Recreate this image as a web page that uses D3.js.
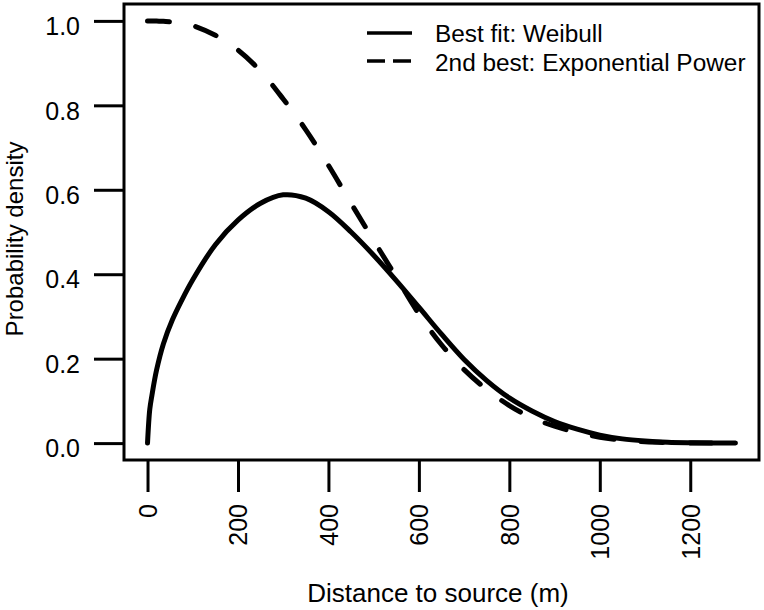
<!DOCTYPE html>
<html>
<head>
<meta charset="utf-8">
<script src="https://cdn.jsdelivr.net/npm/d3@7"></script>
<style>
  body { margin: 0; background: #fff; }
  text { font-family: "Liberation Sans", Arial, Helvetica, sans-serif; fill: #000; }
</style>
</head>
<body>
<div id="chart"></div>
<script>
// values
var distances = [0, 5, 10, 20, 35, 55, 75, 100, 150, 200, 250, 300, 350, 400, 450, 500,
                 550, 600, 650, 700, 750, 800, 850, 900, 950, 1000, 1050, 1100, 1150, 1200, 1250, 1300];
var weibull = [0, 0.08, 0.115, 0.173, 0.235, 0.292, 0.337, 0.387, 0.47, 0.528, 0.568, 0.588,
               0.58, 0.548, 0.5, 0.445, 0.385, 0.322, 0.258, 0.198, 0.148, 0.107, 0.076,
               0.051, 0.033, 0.019, 0.01, 0.005, 0.002, 0.0008, 0.0003, 0];
var expPower = [1.0, 1.0, 1.0, 0.9995, 0.999, 0.997, 0.995, 0.989, 0.966, 0.931, 0.881, 0.815,
                0.742, 0.658, 0.568, 0.48, 0.393, 0.306, 0.233, 0.174, 0.127, 0.089, 0.06,
                0.04, 0.025, 0.014, 0.007, 0.003, 0.0012, 0.0005, 0.0002, 0];
var xTicks = [0, 200, 400, 600, 800, 1000, 1200];
var yTicks = [0, 0.2, 0.4, 0.6, 0.8, 1.0];
var legendLabels = ["Best fit: Weibull", "2nd best: Exponential Power"];

DensityChart = function(_parentElement) {
    this.parentElement = _parentElement;
    this.initVis();
}

DensityChart.prototype.initVis = function() {
    var vis = this;

    vis.width = 764;
    vis.height = 610;
    vis.box = { left: 124, right: 759, top: 4, bottom: 460 };

    vis.svg = d3.select('#' + vis.parentElement)
      .append("svg")
      .attr("width", vis.width)
      .attr("height", vis.height);

    // R style 4% padding round the data range
    vis.x = d3.scaleLinear().domain([-52, 1352]).range([vis.box.left, vis.box.right]);
    vis.y = d3.scaleLinear().domain([-0.04, 1.04]).range([vis.box.bottom, vis.box.top]);

    vis.line = d3.line()
      .x(function(d) { return vis.x(d[0]); })
      .y(function(d) { return vis.y(d[1]); })
      .curve(d3.curveCatmullRom.alpha(0.5));

    var solidPts = distances.map(function(d, i) { return [d, weibull[i]]; });
    var dashPts = distances.map(function(d, i) { return [d, expPower[i]]; });

    vis.svg.append("path")
      .attr("d", vis.line(dashPts))
      .attr("fill", "none")
      .attr("stroke", "#000")
      .attr("stroke-width", 5)
      .attr("stroke-linecap", "round")
      .attr("stroke-dasharray", "22,27");

    vis.svg.append("path")
      .attr("d", vis.line(solidPts))
      .attr("fill", "none")
      .attr("stroke", "#000")
      .attr("stroke-width", 5)
      .attr("stroke-linecap", "round");

    // frame
    vis.svg.append("rect")
      .attr("x", vis.box.left)
      .attr("y", vis.box.top)
      .attr("width", vis.box.right - vis.box.left)
      .attr("height", vis.box.bottom - vis.box.top)
      .attr("fill", "none")
      .attr("stroke", "#000")
      .attr("stroke-width", 3);

    // x axis
    var xAxis = d3.axisBottom(vis.x).tickValues(xTicks).tickSize(32).tickSizeOuter(0)
      .tickFormat(d3.format("d"));
    var gx = vis.svg.append("g")
      .attr("transform", "translate(0," + vis.box.bottom + ")")
      .call(xAxis);
    gx.select(".domain").remove();
    gx.selectAll(".tick line").attr("stroke", "#000").attr("stroke-width", 3);
    gx.selectAll(".tick text")
      .attr("transform", "rotate(-90)")
      .attr("x", -44)
      .attr("y", 0)
      .attr("dy", "0.35em")
      .attr("text-anchor", "end")
      .style("font-size", "25px")
      .style("font-family", "'Liberation Sans', Arial, sans-serif");

    // y axis
    var yAxis = d3.axisLeft(vis.y).tickValues(yTicks).tickSize(30).tickSizeOuter(0)
      .tickFormat(d3.format(".1f"));
    var gy = vis.svg.append("g")
      .attr("transform", "translate(" + vis.box.left + ",0)")
      .call(yAxis);
    gy.select(".domain").remove();
    gy.selectAll(".tick line").attr("stroke", "#000").attr("stroke-width", 3);
    gy.selectAll(".tick text")
      .attr("x", -44)
      .attr("dy", "0.55em")
      .style("font-size", "25px")
      .style("font-family", "'Liberation Sans', Arial, sans-serif");

    // axis titles
    vis.svg.append("text")
      .attr("x", 438)
      .attr("y", 602)
      .attr("text-anchor", "middle")
      .style("font-size", "26px")
      .text("Distance to source (m)");

    vis.svg.append("text")
      .attr("transform", "translate(23,239) rotate(-90)")
      .attr("text-anchor", "middle")
      .style("font-size", "24px")
      .text("Probability density");

    // legend
    var legend = vis.svg.append("g");
    legend.selectAll("line")
      .data(legendLabels)
      .enter()
      .append("line")
      .attr("x1", 367)
      .attr("x2", 412)
      .attr("y1", function(d, i) { return 33 + i * 28; })
      .attr("y2", function(d, i) { return 33 + i * 28; })
      .attr("stroke", "#000")
      .attr("stroke-width", 3.5)
      .attr("stroke-dasharray", function(d, i) { return i == 0 ? null : "18,8"; });

    legend.selectAll("text")
      .data(legendLabels)
      .enter()
      .append("text")
      .attr("x", 435)
      .attr("y", function(d, i) { return 42 + i * 29; })
      .style("font-size", "24.4px")
      .text(function(d) { return d; });
};

new DensityChart("chart");
</script>
</body>
</html>
